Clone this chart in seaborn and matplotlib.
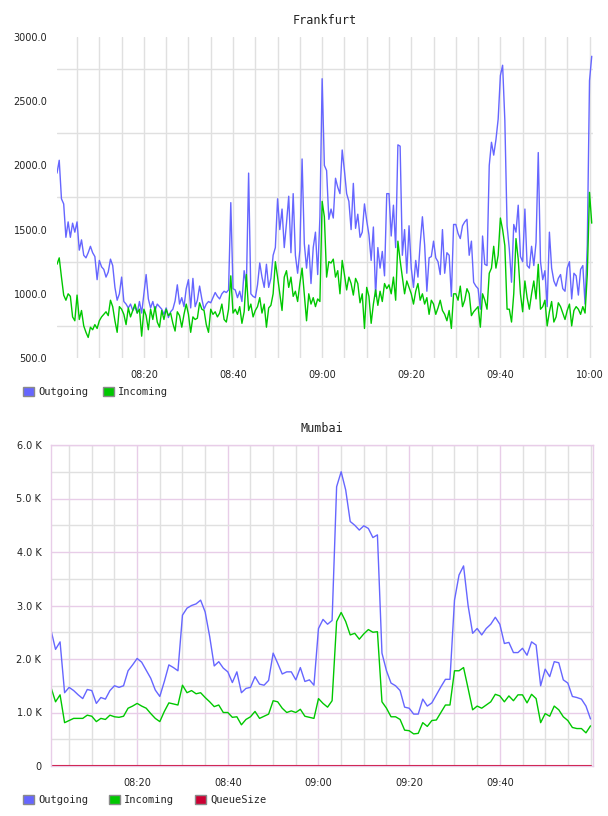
import numpy as np
import pandas as pd
import matplotlib
matplotlib.use("Agg")
import matplotlib.pyplot as plt
import matplotlib.dates as mdates
from matplotlib.patches import Patch
from matplotlib.ticker import FixedLocator, FuncFormatter
import seaborn as sns

# ---------------- data ----------------
DAY = "2024-01-01 "
FRA_TITLE = "Frankfurt"
FRA_START = "08:00:30"
FRA_STEP_S = 30
FRA_OUT = [
    1940, 2040, 1740, 1700, 1440, 1560, 1440, 1550, 1480,
    1560, 1340, 1420, 1300, 1280, 1320, 1370, 1320, 1290, 1110,
    1260, 1210, 1190, 1130, 1170, 1270, 1220, 1050, 950, 1000,
    1130, 940, 920, 890, 920, 870, 900, 850, 940, 850,
    1000, 1150, 960, 890, 940, 870, 920, 900, 880, 840,
    890, 815, 860, 880, 945, 1070, 920, 970, 900, 1040,
    1110, 890, 1120, 900, 950, 1060, 960, 880, 920, 940,
    930, 970, 1010, 980, 960, 1000, 1020, 1010, 1030, 1710,
    1040, 1030, 970, 1020, 940, 1180, 1060, 1940, 1000, 980,
    970, 1070, 1240, 1130, 1050, 1230, 1050, 1120, 1300, 1360,
    1740, 1500, 1660, 1360, 1550, 1760, 1320, 1780, 1300, 1160,
    1340, 2050, 1390, 1200, 1380, 1080, 1360, 1480, 1150, 1600,
    2675, 2000, 1960, 1580, 1660, 1590, 1900, 1830, 1780, 2120,
    1960, 1780, 1720, 1500, 1860, 1510, 1620, 1440, 1480, 1700,
    1570, 1460, 1260, 1520, 980, 1360, 1200, 1330, 1140, 1780,
    1780, 1450, 1690, 1360, 2160, 2150, 1300, 1500, 1160, 1530,
    1200, 1050, 1260, 1130, 1390, 1600, 1380, 1020, 1280, 1290,
    1410, 1280, 1250, 1150, 1500, 1160, 1320, 1300, 980, 1540,
    1540, 1470, 1430, 1530, 1560, 1580, 1300, 1410, 1090, 1060,
    1040, 880, 1450, 1230, 1220, 2000, 2180, 2080, 2200, 2360,
    2700, 2780, 2350, 1530, 1350, 1090, 1540, 1480, 1690, 1290,
    1250, 1660, 1220, 1200, 1370, 1220, 1400, 2100, 1250, 1110,
    1180, 900, 1480, 1200, 1100, 1060, 1120, 1150, 1040, 1020,
    1200, 1250, 960, 1160, 1140, 990, 1190, 1220, 920, 1380,
    2660, 2850,
]
FRA_IN = [
    1230, 1280, 1130, 990, 950, 1000, 980, 820, 790,
    990, 800, 870, 750, 700, 660, 740, 720, 760, 730,
    790, 820, 840, 860, 830, 950, 900, 790, 700, 900,
    880, 840, 760, 890, 820, 870, 920, 850, 880, 670,
    880, 830, 720, 880, 800, 900, 780, 740, 870, 800,
    880, 830, 850, 770, 710, 860, 830, 740, 840, 920,
    840, 700, 820, 800, 810, 930, 880, 870, 760, 700,
    880, 840, 860, 820, 850, 920, 800, 780, 880, 1140,
    850, 880, 840, 900, 770, 860, 1150, 870, 920, 820,
    870, 900, 970, 850, 920, 740, 890, 910, 1000, 1250,
    1130, 1000, 870, 1130, 1180, 1050, 1130, 980, 1020, 940,
    1080, 1200, 1000, 790, 1000, 920, 970, 900, 960, 940,
    1720, 1600, 1130, 1250, 1240, 1270, 1130, 1180, 1000, 1260,
    1150, 1030, 1130, 1080, 990, 1120, 1080, 930, 1000, 730,
    1050, 980, 770, 920, 1030, 910, 1020, 940, 1080, 1040,
    1070, 1000, 1130, 950, 1410, 1260, 1130, 1000, 1100, 1050,
    1000, 920, 1020, 1080, 950, 1000, 920, 970, 840, 950,
    920, 840, 890, 950, 870, 840, 790, 870, 730, 1000,
    1000, 950, 1060, 900, 950, 1040, 1000, 830, 860, 880,
    900, 740, 1000, 950, 880, 1160, 1200, 1370, 1200, 1300,
    1590, 1500, 1375, 880, 880, 780, 1000, 1430, 1270, 1000,
    860, 1100, 970, 880, 1000, 1100, 960, 1230, 880, 900,
    950, 750, 860, 940, 780, 820, 930, 900, 850, 800,
    870, 920, 750, 870, 900, 880, 840, 900, 850, 1150,
    1790, 1550,
]
FRA_YTICKS = [500, 1000, 1500, 2000, 2500, 3000]
FRA_YGRID = [750, 1250, 1750, 2250, 2750]
FRA_XTICKS = ["08:20", "08:40", "09:00", "09:20", "09:40", "10:00"]
FRA_XLIM = ["08:00:30", "10:00:47"]
FRA_LABELS = ["Outgoing", "Incoming"]

MUM_TITLE = "Mumbai"
MUM_START = "08:01:00"
MUM_STEP_S = 60
MUM_OUT = [
    2540, 2180, 2320, 1370, 1470, 1410, 1330, 1260, 1430, 1410,
    1170, 1280, 1250, 1410, 1500, 1470, 1500, 1780, 1890, 2010,
    1940, 1790, 1640, 1420, 1300, 1580, 1890, 1840, 1780, 2820,
    2950, 3000, 3030, 3100, 2880, 2420, 1870, 1950, 1830, 1760,
    1560, 1760, 1370, 1450, 1470, 1670, 1530, 1510, 1600, 2110,
    1920, 1720, 1760, 1760, 1610, 1840, 1580, 1610, 1510, 2570,
    2740, 2650, 2720, 5220, 5500, 5160, 4570, 4500, 4410, 4490,
    4440, 4270, 4320, 2110, 1780, 1550, 1500, 1410, 1100, 1080,
    970, 970, 1250, 1120, 1180, 1330, 1480, 1620, 1620, 3100,
    3570, 3740, 3000, 2480, 2570, 2450, 2570, 2650, 2780, 2650,
    2290, 2310, 2120, 2120, 2200, 2070, 2320, 2260, 1500, 1810,
    1670, 1950, 1930, 1610, 1550, 1300, 1280, 1250, 1120, 880,
]
MUM_IN = [
    1470, 1200, 1330, 810, 850, 890, 890, 890, 950, 930,
    830, 890, 870, 950, 920, 910, 930, 1080, 1120, 1170,
    1120, 1080, 980, 890, 830, 1020, 1180, 1160, 1140, 1510,
    1370, 1410, 1350, 1370, 1280, 1200, 1110, 1140, 1000, 1000,
    910, 920, 770, 870, 920, 1020, 890, 930, 970, 1220,
    1200, 1080, 1000, 1030, 1000, 1060, 930, 910, 890, 1260,
    1170, 1100, 1220, 2700, 2870, 2700, 2450, 2480, 2370, 2470,
    2550, 2500, 2510, 1200, 1080, 920, 920, 870, 670, 660,
    600, 610, 810, 740, 850, 860, 1000, 1140, 1140, 1780,
    1780, 1840, 1450, 1050, 1120, 1080, 1140, 1200, 1340, 1310,
    1200, 1310, 1220, 1330, 1330, 1180, 1340, 1260, 810, 980,
    930, 1120, 1050, 920, 850, 720, 700, 700, 620, 750,
]
MUM_QUEUE = [
    0, 0, 0, 0, 0, 0, 0, 0, 0, 0, 0, 0, 0, 0, 0, 0, 0, 0, 0, 0,
    0, 0, 0, 0, 0, 0, 0, 0, 0, 0, 0, 0, 0, 0, 0, 0, 0, 0, 0, 0,
    0, 0, 0, 0, 0, 0, 0, 0, 0, 0, 0, 0, 0, 0, 0, 0, 0, 0, 0, 0,
    0, 0, 0, 0, 0, 0, 0, 0, 0, 0, 0, 0, 0, 0, 0, 0, 0, 0, 0, 0,
    0, 0, 0, 0, 0, 0, 0, 0, 0, 0, 0, 0, 0, 0, 0, 0, 0, 0, 0, 0,
    0, 0, 0, 0, 0, 0, 0, 0, 0, 0, 0, 0, 0, 0, 0, 0, 0, 0, 0, 0,
]
MUM_YTICKS = [0, 1000, 2000, 3000, 4000, 5000, 6000]
MUM_YGRID = [500, 1500, 2500, 3500, 4500, 5500]
MUM_XTICKS = ["08:20", "08:40", "09:00", "09:20", "09:40"]
MUM_XLIM = ["08:01:00", "10:00:33"]
MUM_LABELS = ["Outgoing", "Incoming", "QueueSize"]

# ---------------- style ----------------
C_OUT = "#6666ff"
C_IN = "#00c800"
C_Q = "#cc0033"
GRID_GRAY = "#e0e0e0"
GRID_PINK = "#e8cde8"
TXT = "#222222"

sns.set_style("white")
plt.rcParams["font.family"] = ["DejaVu Sans"]
MONO = ["DejaVu Sans Mono"]


def ts(s):
    return pd.Timestamp(DAY + s)


def times(start, step, n):
    return pd.date_range(ts(start), periods=n, freq=f"{step}s")


W, H = 608, 816
fig = plt.figure(figsize=(W / 100, H / 100), dpi=100)
fig.patch.set_facecolor("white")

ax1 = fig.add_axes([57 / W, 1 - 358 / H, (593 - 57) / W, (358 - 37) / H])
ax2 = fig.add_axes([51 / W, 1 - 766 / H, (593 - 51) / W, (766 - 445) / H])

# ---- Frankfurt ----
fra = pd.DataFrame({"t": times(FRA_START, FRA_STEP_S, len(FRA_OUT)),
                    "Outgoing": FRA_OUT, "Incoming": FRA_IN})
sns.lineplot(data=fra, x="t", y="Outgoing", ax=ax1, color=C_OUT,
             linewidth=1.0, estimator=None)
sns.lineplot(data=fra, x="t", y="Incoming", ax=ax1, color=C_IN,
             linewidth=1.0, estimator=None)
ax1.set_xlim(ts(FRA_XLIM[0]), ts(FRA_XLIM[1]))
ax1.set_ylim(FRA_YTICKS[0], FRA_YTICKS[-1])
ax1.yaxis.set_major_locator(FixedLocator(FRA_YTICKS))
ax1.yaxis.set_major_formatter(FuncFormatter(lambda v, p: f"{v:.1f}"))
ax1.yaxis.set_minor_locator(FixedLocator(FRA_YGRID))
ax1.xaxis.set_major_locator(FixedLocator([mdates.date2num(ts(s)) for s in FRA_XTICKS]))
ax1.xaxis.set_major_formatter(mdates.DateFormatter("%H:%M"))
ax1.xaxis.set_minor_locator(mdates.MinuteLocator(byminute=range(0, 60, 5)))
ax1.grid(False)
ax1.grid(which="minor", axis="y", color=GRID_GRAY, linewidth=1.0)
ax1.grid(which="both", axis="x", color=GRID_GRAY, linewidth=1.0)
for s in ax1.spines.values():
    s.set_visible(False)
ax1.set_axisbelow(True)
ax1.set_title(FRA_TITLE, family=MONO, fontsize=8.5, color=TXT, pad=9)

# ---- Mumbai ----
mum = pd.DataFrame({"t": times(MUM_START, MUM_STEP_S, len(MUM_OUT)),
                    "Outgoing": MUM_OUT, "Incoming": MUM_IN,
                    "QueueSize": MUM_QUEUE})
sns.lineplot(data=mum, x="t", y="Outgoing", ax=ax2, color=C_OUT,
             linewidth=1.0, estimator=None)
sns.lineplot(data=mum, x="t", y="Incoming", ax=ax2, color=C_IN,
             linewidth=1.0, estimator=None)
sns.lineplot(data=mum, x="t", y="QueueSize", ax=ax2, color=C_Q,
             linewidth=1.5, estimator=None)
ax2.set_xlim(ts(MUM_XLIM[0]), ts(MUM_XLIM[1]))
ax2.set_ylim(MUM_YTICKS[0], MUM_YTICKS[-1])
ax2.yaxis.set_major_locator(FixedLocator(MUM_YTICKS))
ax2.yaxis.set_major_formatter(
    FuncFormatter(lambda v, p: "0" if v == 0 else f"{v / 1000:.1f} K"))
ax2.yaxis.set_minor_locator(FixedLocator(MUM_YGRID))
ax2.xaxis.set_major_locator(FixedLocator([mdates.date2num(ts(s)) for s in MUM_XTICKS]))
ax2.xaxis.set_major_formatter(mdates.DateFormatter("%H:%M"))
ax2.xaxis.set_minor_locator(mdates.MinuteLocator(byminute=range(0, 60, 5)))
ax2.grid(False)
ax2.grid(which="minor", color=GRID_GRAY, linewidth=1.0)
ax2.grid(which="major", color=GRID_PINK, linewidth=1.0)
for s in ax2.spines.values():
    s.set_color(GRID_PINK)
    s.set_linewidth(1.0)
ax2.set_axisbelow(True)
ax2.set_title(MUM_TITLE, family=MONO, fontsize=8.5, color=TXT, pad=9)

for ax in (ax1, ax2):
    ax.set_xlabel("")
    ax.set_ylabel("")
    ax.tick_params(which="both", length=0, labelsize=7, labelcolor=TXT)
    ax.tick_params(axis="x", pad=9)
    ax.tick_params(axis="y", pad=7)
    if ax.get_legend() is not None:
        ax.get_legend().remove()

# ---- legends ----
def legend(labels, colors, y, colspace):
    handles = [Patch(facecolor=c, edgecolor="#8a8a8a", linewidth=1.0) for c in colors]
    fig.legend(handles, labels, loc="center left", bbox_to_anchor=(23 / W, 1 - y / H),
               ncol=len(labels), frameon=False, borderpad=0, borderaxespad=0,
               handlelength=1.05, handleheight=1.05, handletextpad=0.4,
               columnspacing=colspace, prop={"family": MONO, "size": 7.5})


legend(FRA_LABELS, [C_OUT, C_IN], 392, 1.45)
legend(MUM_LABELS, [C_OUT, C_IN, C_Q], 800, 2.0)

fig.savefig("out.png", dpi=100, facecolor="white")
